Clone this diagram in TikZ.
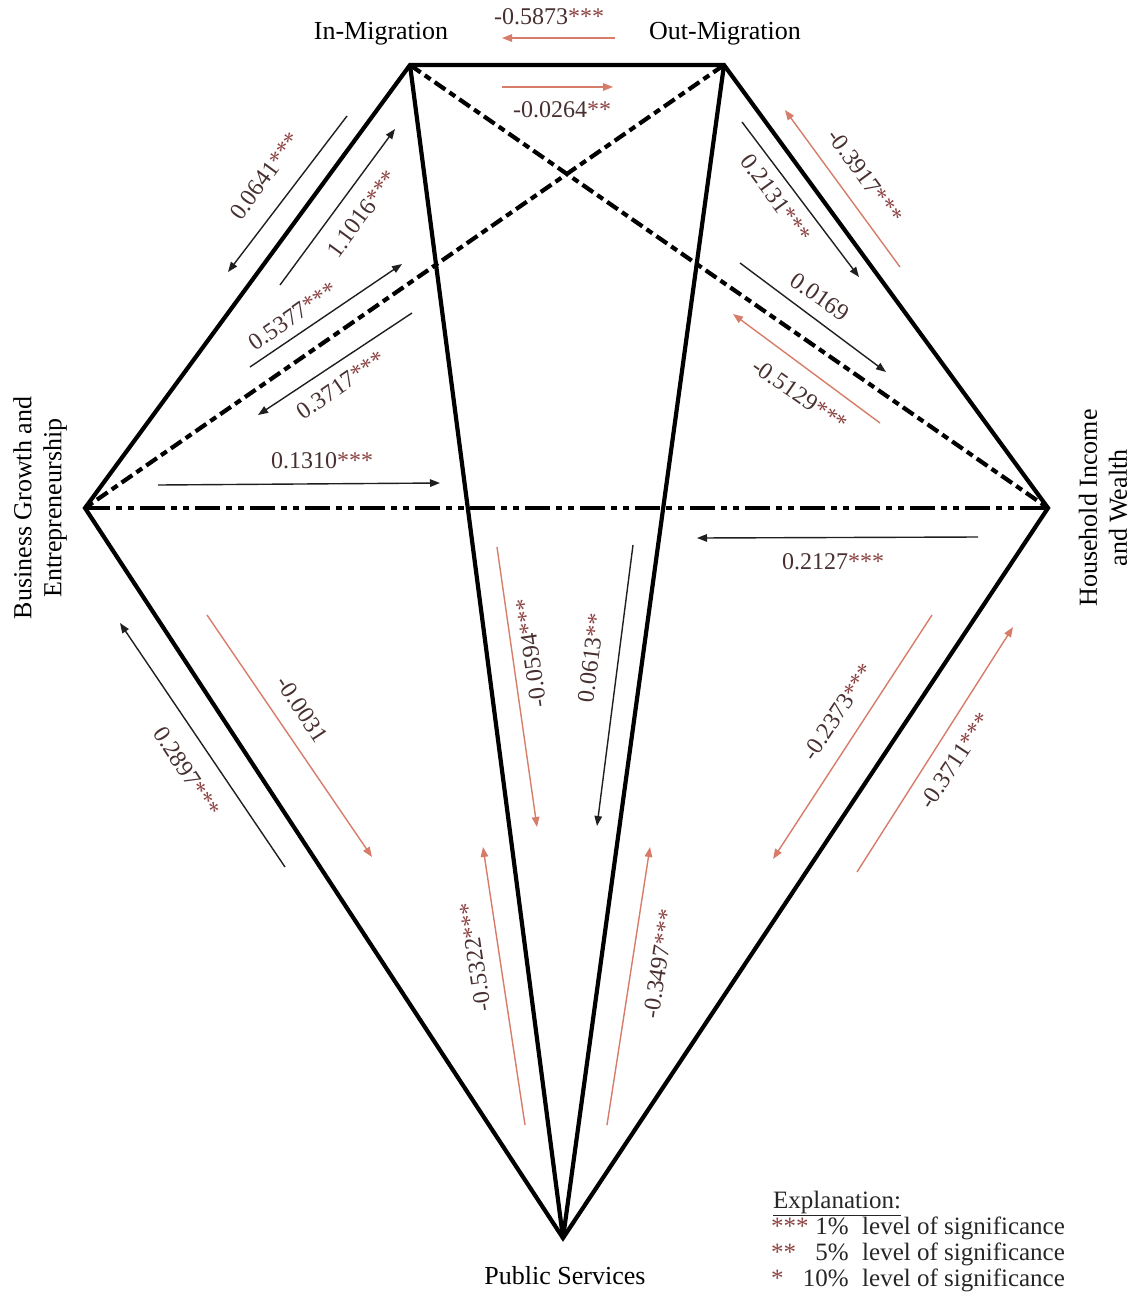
\documentclass[tikz,border=0pt]{standalone}
\usepackage{fontspec}
\setmainfont{Liberation Serif}
\usetikzlibrary{arrows.meta}
\definecolor{salm}{RGB}{214,124,104}
\definecolor{numc}{RGB}{72,48,48}
\definecolor{starc}{RGB}{140,66,66}
\newcommand\sig[1]{{\color{starc}#1}}
\begin{document}
\begin{tikzpicture}[x=1pt,y=-1pt,
  edge/.style={line width=4.2pt, line join=miter, line cap=butt},
  dashedge/.style={edge, dash pattern=on 13pt off 5pt on 7pt off 5pt},
  dotedge/.style={edge, dash pattern=on 25pt off 6pt on 6pt off 6pt on 6pt off 6pt},
  arr/.style={line width=1.4pt, -{Triangle[length=10pt,width=7.5pt]}},
  barr/.style={arr, draw=black!88},
  sarr/.style={arr, draw=salm},
  lbl/.style={font=\fontsize{24}{27}\selectfont, text=numc, inner sep=0pt},
  vlabel/.style={font=\fontsize{26}{30}\selectfont, align=center, inner sep=0pt},
  lgd/.style={font=\fontsize{25}{28}\selectfont, text=black!85, inner sep=0pt},
]
\useasboundingbox (0,0) rectangle (1144,1294);

% vertices
\coordinate (IN) at (410,65);
\coordinate (OUT) at (724,65);
\coordinate (BUS) at (85,508);
\coordinate (HH) at (1048,508);
\coordinate (PS) at (563,1238);

% vertex labels
\node[vlabel] (inlab) at (381,34) {In-Migration};
\node[vlabel] (outlab) at (725,34) {Out-Migration};
\node[vlabel] (pslab) at (565,1276) {Public Services};
\node[vlabel, rotate=90] (buslab) at (40,508) {Business Growth and\\Entrepreneurship};
\node[vlabel, rotate=90] (hhlab) at (1103,508) {Household Income\\and Wealth};

% main structure
\draw[edge] (BUS) -- (IN) -- (OUT) -- (HH) -- (PS) -- cycle;
\draw[edge] (IN) -- (PS);
\draw[edge] (OUT) -- (PS);
\draw[dashedge] (IN) -- (HH);
\draw[dashedge] (OUT) -- (BUS);
\draw[dotedge] (BUS) -- (HH);

% top
\coordinate (a1s) at (615,38); \coordinate (a1e) at (502,38);
\draw[sarr] (a1s) -- (a1e);
\node[lbl] (l1) at (549,17) {-0.5873\sig{***}};
\coordinate (a2s) at (502,87); \coordinate (a2e) at (613,87);
\draw[sarr] (a2s) -- (a2e);
\node[lbl] (l2) at (562,110) {-0.0264\sig{**}};

% in -- business
\coordinate (a3s) at (347,116); \coordinate (a3e) at (228,272);
\draw[barr] (a3s) -- (a3e);
\node[lbl, rotate=53.7] (l3) at (265,176) {0.0641\sig{***}};
\coordinate (a4s) at (280,285); \coordinate (a4e) at (395,129);
\draw[barr] (a4s) -- (a4e);
\node[lbl, rotate=53.7] (l4) at (362,214) {1.1016\sig{***}};

% out -- business
\coordinate (a5s) at (250,367); \coordinate (a5e) at (402,264);
\draw[barr] (a5s) -- (a5e);
\node[lbl, rotate=34.7] (l5) at (293,316) {0.5377\sig{***}};
\coordinate (a6s) at (412,313); \coordinate (a6e) at (258,415);
\draw[barr] (a6s) -- (a6e);
\node[lbl, rotate=34.7] (l6) at (341,385) {0.3717\sig{***}};

% out -- household
\coordinate (a7s) at (742,122); \coordinate (a7e) at (859,277);
\draw[barr] (a7s) -- (a7e);
\node[lbl, rotate=-53.8] (l7) at (776,198) {0.2131\sig{***}};
\coordinate (a8s) at (900,267); \coordinate (a8e) at (785,110);
\draw[sarr] (a8s) -- (a8e);
\node[lbl, rotate=-53.8] (l8) at (865,176) {-0.3917\sig{***}};

% in -- household
\coordinate (a9s) at (740,263); \coordinate (a9e) at (886,372);
\draw[barr] (a9s) -- (a9e);
\node[lbl, rotate=-34.8] (l9) at (820,297) {0.0169};
\coordinate (a10s) at (880,423); \coordinate (a10e) at (733,314);
\draw[sarr] (a10s) -- (a10e);
\node[lbl, rotate=-34.8] (l10) at (800,395) {-0.5129\sig{***}};

% business -- household
\coordinate (a11s) at (158,485); \coordinate (a11e) at (440,483);
\draw[barr] (a11s) -- (a11e);
\node[lbl] (l11) at (322,461) {0.1310\sig{***}};
\coordinate (a12s) at (978,537); \coordinate (a12e) at (697,538);
\draw[barr] (a12s) -- (a12e);
\node[lbl] (l12) at (833,562) {0.2127\sig{***}};

% business -- public
\coordinate (a13s) at (285,867); \coordinate (a13e) at (120,623);
\draw[barr] (a13s) -- (a13e);
\node[lbl, rotate=-56.8] (l13) at (187,772) {0.2897\sig{***}};
\coordinate (a14s) at (207,615); \coordinate (a14e) at (372,857);
\draw[sarr] (a14s) -- (a14e);
\node[lbl, rotate=-56.8] (l14) at (302,709) {-0.0031};

% in -- public / out -- public
\coordinate (a15s) at (497,547); \coordinate (a15e) at (537,827);
\draw[sarr] (a15s) -- (a15e);
\node[lbl, rotate=98.1] (l15) at (531,653) {-0.0594\sig{***}};
\coordinate (a16s) at (633,545); \coordinate (a16e) at (597,826);
\draw[barr] (a16s) -- (a16e);
\node[lbl, rotate=82.7] (l16) at (591,658) {0.0613\sig{**}};
\coordinate (a17s) at (525,1125); \coordinate (a17e) at (483,847);
\draw[sarr] (a17s) -- (a17e);
\node[lbl, rotate=98.6] (l17) at (475,957) {-0.5322\sig{***}};
\coordinate (a18s) at (607,1125); \coordinate (a18e) at (650,847);
\draw[sarr] (a18s) -- (a18e);
\node[lbl, rotate=81.2] (l18) at (659,964) {-0.3497\sig{***}};

% household -- public
\coordinate (a19s) at (932,615); \coordinate (a19e) at (773,859);
\draw[sarr] (a19s) -- (a19e);
\node[lbl, rotate=56.4] (l19) at (838,712) {-0.2373\sig{***}};
\coordinate (a20s) at (857,872); \coordinate (a20e) at (1013,627);
\draw[sarr] (a20s) -- (a20e);
\node[lbl, rotate=56.4] (l20) at (955,761) {-0.3711\sig{***}};

% legend
\node[lgd, anchor=base west] (expl) at (773,1208) {\underline{Explanation:}};
\node[lgd, anchor=base west] (s1) at (771,1234) {\sig{***}};
\node[lgd, anchor=base east] (p1) at (849,1234) {1\%};
\node[lgd, anchor=base west] (t1) at (862,1234) {level of significance};
\node[lgd, anchor=base west] (s2) at (771,1260) {\sig{**}};
\node[lgd, anchor=base east] (p2) at (849,1260) {5\%};
\node[lgd, anchor=base west] (t2) at (862,1260) {level of significance};
\node[lgd, anchor=base west] (s3) at (771,1286) {\sig{*}};
\node[lgd, anchor=base east] (p3) at (849,1286) {10\%};
\node[lgd, anchor=base west] (t3) at (862,1286) {level of significance};
\end{tikzpicture}
\end{document}
